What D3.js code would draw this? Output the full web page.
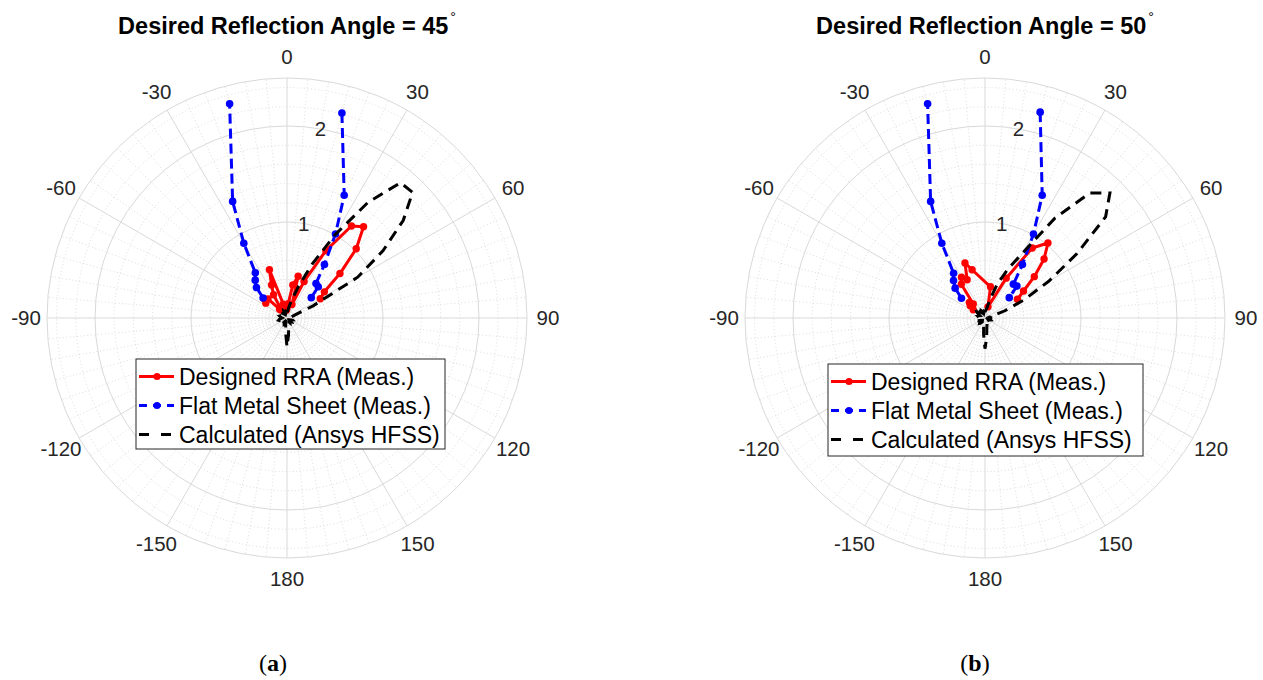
<!DOCTYPE html>
<html>
<head>
<meta charset="utf-8">
<script src="https://cdn.jsdelivr.net/npm/d3@7"></script>
<style>
  body { margin: 0; background: #fff; }
</style>
</head>
<body>
<svg id="chart" width="1263" height="680"></svg>
<script>
// ---- data ----
const thetaTicks = [0, 30, 60, 90, 120, 150, 180, 210, 240, 270, 300, 330]
const thetaLabels = ["0", "30", "60", "90", "120", "150", "180", "-150", "-120", "-90", "-60", "-30"]
const rTicks = [1, 2]
const rMinor = [0.2, 0.4, 0.6, 0.8, 1.2, 1.4, 1.6, 1.8, 2.2, 2.4]
const rMax = 2.5
const titleAngles = ["45", "50"]
const captionLetters = ["a", "b"]
const seriesNames = ["Designed RRA (Meas.)", "Flat Metal Sheet (Meas.)", "Calculated (Ansys HFSS)"]

// Designed RRA, measured  [angle deg, magnitude]
const rraA = [[-55, 0.27], [-50, 0.31], [-45, 0.28], [-40, 0.12], [-35, 0.10], [-30, 0.28], [-25, 0.38],
  [-20, 0.535], [-15, 0.15], [-10, 0.10], [-5, 0.08], [0, 0.10], [5, 0.15], [10, 0.35], [15, 0.45],
  [20, 0.15], [25, 0.42], [30, 0.81], [35, 1.17], [40, 1.24], [45, 1.02], [50, 0.72], [55, 0.475], [60, 0.40]]
const rraB = [[-55, 0.15], [-50, 0.20], [-45, 0.23], [-40, 0.19], [-35, 0.43], [-30, 0.49], [-25, 0.44],
  [-20, 0.61], [-15, 0.52], [10, 0.33], [15, 0.12], [28, 0.47], [34, 0.88], [40, 1.02], [45, 0.87],
  [50, 0.67], [55, 0.49], [60, 0.39]]

// Flat metal sheet, measured (null = break between the two sides)
const flatA = [[-50, 0.325], [-45, 0.45], [-40, 0.515], [-35, 0.575], [-30, 0.90], [-25, 1.34], [-15, 2.31], null,
  [15, 2.21], [25, 1.41], [30, 1.01], [35, 0.68], [40, 0.47], [45, 0.46], [50, 0.33]]
const flatB = [[-50, 0.32], [-45, 0.44], [-40, 0.51], [-35, 0.57], [-30, 0.90], [-25, 1.34], [-15, 2.31], null,
  [15, 2.22], [25, 1.41], [30, 1.01], [35, 0.68], [40, 0.46], [45, 0.47], [50, 0.33]]

// Calculated (HFSS), every 5 deg from 0 to 355
const calcAngles = [0, 5, 10, 15, 20, 25, 30, 35, 40, 45, 50, 55, 60, 65, 70, 75, 80, 85, 90, 95, 100, 105, 110, 115,
  120, 125, 130, 135, 140, 145, 150, 155, 160, 165, 170, 175, 180, 185, 190, 195, 200, 205, 210, 215, 220, 225, 230, 235,
  240, 245, 250, 255, 260, 265, 270, 275, 280, 285, 290, 295, 300, 305, 310, 315, 320, 325, 330, 335, 340, 345, 350, 355]
const calcA = [0.06, 0.07, 0.12, 0.20, 0.35, 0.62, 1.00, 1.47, 1.84, 1.85, 1.58, 1.22, 0.85, 0.30, 0.08, 0.05, 0.06, 0.07,
  0.06, 0.05, 0.04, 0.05, 0.06, 0.05, 0.04, 0.05, 0.06, 0.05, 0.04, 0.05, 0.06, 0.05, 0.06, 0.08, 0.10, 0.18, 0.30, 0.16,
  0.08, 0.05, 0.06, 0.07, 0.06, 0.05, 0.07, 0.08, 0.07, 0.06, 0.05, 0.06, 0.08, 0.09, 0.08, 0.06, 0.05, 0.06, 0.07, 0.08,
  0.07, 0.06, 0.08, 0.10, 0.09, 0.07, 0.06, 0.05, 0.06, 0.08, 0.07, 0.05, 0.06, 0.05]
const calcB = [0.06, 0.08, 0.10, 0.20, 0.38, 0.56, 0.78, 1.27, 1.70, 1.84, 1.64, 1.17, 0.77, 0.45, 0.22, 0.08, 0.05, 0.06,
  0.06, 0.05, 0.04, 0.05, 0.06, 0.05, 0.04, 0.05, 0.06, 0.05, 0.04, 0.05, 0.06, 0.05, 0.06, 0.08, 0.11, 0.20, 0.32, 0.17,
  0.08, 0.05, 0.06, 0.07, 0.06, 0.05, 0.07, 0.08, 0.07, 0.06, 0.05, 0.06, 0.08, 0.09, 0.08, 0.06, 0.05, 0.06, 0.07, 0.08,
  0.07, 0.06, 0.08, 0.10, 0.12, 0.15, 0.12, 0.07, 0.06, 0.08, 0.07, 0.05, 0.06, 0.05]

// ---- layout ----
const panels = [
  { cx: 287, cy: 318, capX: 273, title: titleAngles[0], cap: captionLetters[0], rra: rraA, flat: flatA, calc: calcA,
    leg: { x: 136, y: 359, w: 309, h: 90 } },
  { cx: 985, cy: 318, capX: 975, title: titleAngles[1], cap: captionLetters[1], rra: rraB, flat: flatB, calc: calcB,
    leg: { x: 828, y: 364, w: 315, h: 92 } }
]

const R = 240
const rScale = d3.scaleLinear().domain([0, rMax]).range([0, R])
const aScale = d3.scaleLinear().domain([0, 360]).range([0, 2 * Math.PI])
const minorTheta = d3.range(0, 360, 5).filter(t => t % 30 !== 0)

const textCol = '#262626'
const font = '"Liberation Sans", Arial, Helvetica, sans-serif'
const colors = ['#ff0000', '#0000ff', '#000000']

const svg = d3.select('#chart')

const radial = d3.lineRadial()
  .angle(d => aScale(d[0]))
  .radius(d => rScale(d[1]))
  .defined(d => d != null)

const px = d => rScale(d[1]) * Math.sin(aScale(d[0]))
const py = d => -rScale(d[1]) * Math.cos(aScale(d[0]))

panels.forEach(p => {
  const g = svg.append('g').attr('transform', `translate(${p.cx},${p.cy})`)

  // minor grid (dotted)
  g.selectAll('.rminor').data(rMinor).join('circle')
    .attr('r', d => rScale(d))
    .attr('fill', 'none').attr('stroke', '#c4c4c4').attr('stroke-width', 0.6)
    .attr('stroke-dasharray', '1,2.5')
  g.selectAll('.tminor').data(minorTheta).join('line')
    .attr('x1', 0).attr('y1', 0)
    .attr('x2', d => R * Math.sin(aScale(d)))
    .attr('y2', d => -R * Math.cos(aScale(d)))
    .attr('stroke', '#c4c4c4').attr('stroke-width', 0.6)
    .attr('stroke-dasharray', '1,2.5')

  // major grid
  g.selectAll('.rmajor').data(rTicks.concat([rMax])).join('circle')
    .attr('r', d => rScale(d))
    .attr('fill', 'none').attr('stroke', '#d9d9d9').attr('stroke-width', 1)
  g.selectAll('.tmajor').data(thetaTicks).join('line')
    .attr('x1', 0).attr('y1', 0)
    .attr('x2', d => R * Math.sin(aScale(d)))
    .attr('y2', d => -R * Math.cos(aScale(d)))
    .attr('stroke', '#d9d9d9').attr('stroke-width', 1)

  // theta labels
  g.selectAll('.tlab').data(thetaTicks).join('text')
    .attr('x', d => 261 * Math.sin(aScale(d)))
    .attr('y', d => -261 * Math.cos(aScale(d)))
    .attr('dy', '0.36em')
    .attr('text-anchor', 'middle')
    .attr('font-family', font).attr('font-size', '20.5px').attr('fill', textCol)
    .text((d, i) => thetaLabels[i])

  // r labels at 10 deg
  g.selectAll('.rlab').data(rTicks).join('text')
    .attr('x', d => rScale(d) * Math.sin(aScale(10)))
    .attr('y', d => -rScale(d) * Math.cos(aScale(10)))
    .attr('dy', '0.36em')
    .attr('text-anchor', 'middle')
    .attr('font-family', font).attr('font-size', '20.5px').attr('fill', textCol)
    .text(d => d)

  // series
  g.append('path').datum(p.rra)
    .attr('d', radial)
    .attr('fill', 'none').attr('stroke', colors[0]).attr('stroke-width', 3)
    .attr('stroke-linejoin', 'round')
  g.selectAll('.rdot').data(p.rra).join('circle')
    .attr('cx', px).attr('cy', py)
    .attr('r', 3.7).attr('fill', colors[0])

  g.append('path').datum(p.flat)
    .attr('d', radial)
    .attr('fill', 'none').attr('stroke', colors[1]).attr('stroke-width', 3)
    .attr('stroke-dasharray', '10,5')
  g.selectAll('.bdot').data(p.flat.filter(d => d != null)).join('circle')
    .attr('cx', px).attr('cy', py)
    .attr('r', 3.8).attr('fill', colors[1])

  const calcPts = calcAngles.map((a, i) => [a, p.calc[i]])
  g.append('path').datum(calcPts)
    .attr('d', radial.curve(d3.curveLinearClosed))
    .attr('fill', 'none').attr('stroke', colors[2]).attr('stroke-width', 3)
    .attr('stroke-dasharray', '11,7')
  radial.curve(d3.curveLinear)

  // title
  const t = svg.append('text')
    .attr('x', p.cx).attr('y', 34)
    .attr('text-anchor', 'middle')
    .attr('font-family', font).attr('font-size', '23.5px').attr('font-weight', 'bold')
    .attr('fill', '#000')
  t.append('tspan').text(`Desired Reflection Angle = ${p.title}`)
  t.append('tspan').attr('dx', 2).attr('dy', -12).attr('font-size', '14px').attr('font-weight', 'normal').text('°')

  // legend
  const L = p.leg
  const lg = svg.append('g').attr('transform', `translate(${L.x},${L.y})`)
  lg.append('rect').attr('width', L.w).attr('height', L.h)
    .attr('fill', '#fff').attr('stroke', textCol).attr('stroke-width', 1)
  seriesNames.forEach((name, i) => {
    const y = 17.5 + i * 29
    lg.append('line').attr('x1', 3).attr('x2', 38).attr('y1', y).attr('y2', y)
      .attr('stroke', colors[i]).attr('stroke-width', 3)
      .attr('stroke-dasharray', i === 0 ? null : (i === 1 ? '8,6' : '10,12'))
    if (i < 2) {
      lg.append('circle').attr('cx', 21).attr('cy', y).attr('r', 3.6).attr('fill', colors[i])
    }
    lg.append('text').attr('x', 43).attr('y', y).attr('dy', '0.35em')
      .attr('font-family', font).attr('font-size', '23px').attr('fill', '#000')
      .text(name)
  })

  // caption
  const c = svg.append('text')
    .attr('x', p.capX).attr('y', 671)
    .attr('text-anchor', 'middle')
    .attr('font-family', '"Liberation Serif", "DejaVu Serif", serif').attr('font-size', '24px')
    .attr('fill', '#000')
  c.append('tspan').text('(')
  c.append('tspan').attr('font-weight', 'bold').text(p.cap)
  c.append('tspan').text(')')
})
</script>
</body>
</html>
